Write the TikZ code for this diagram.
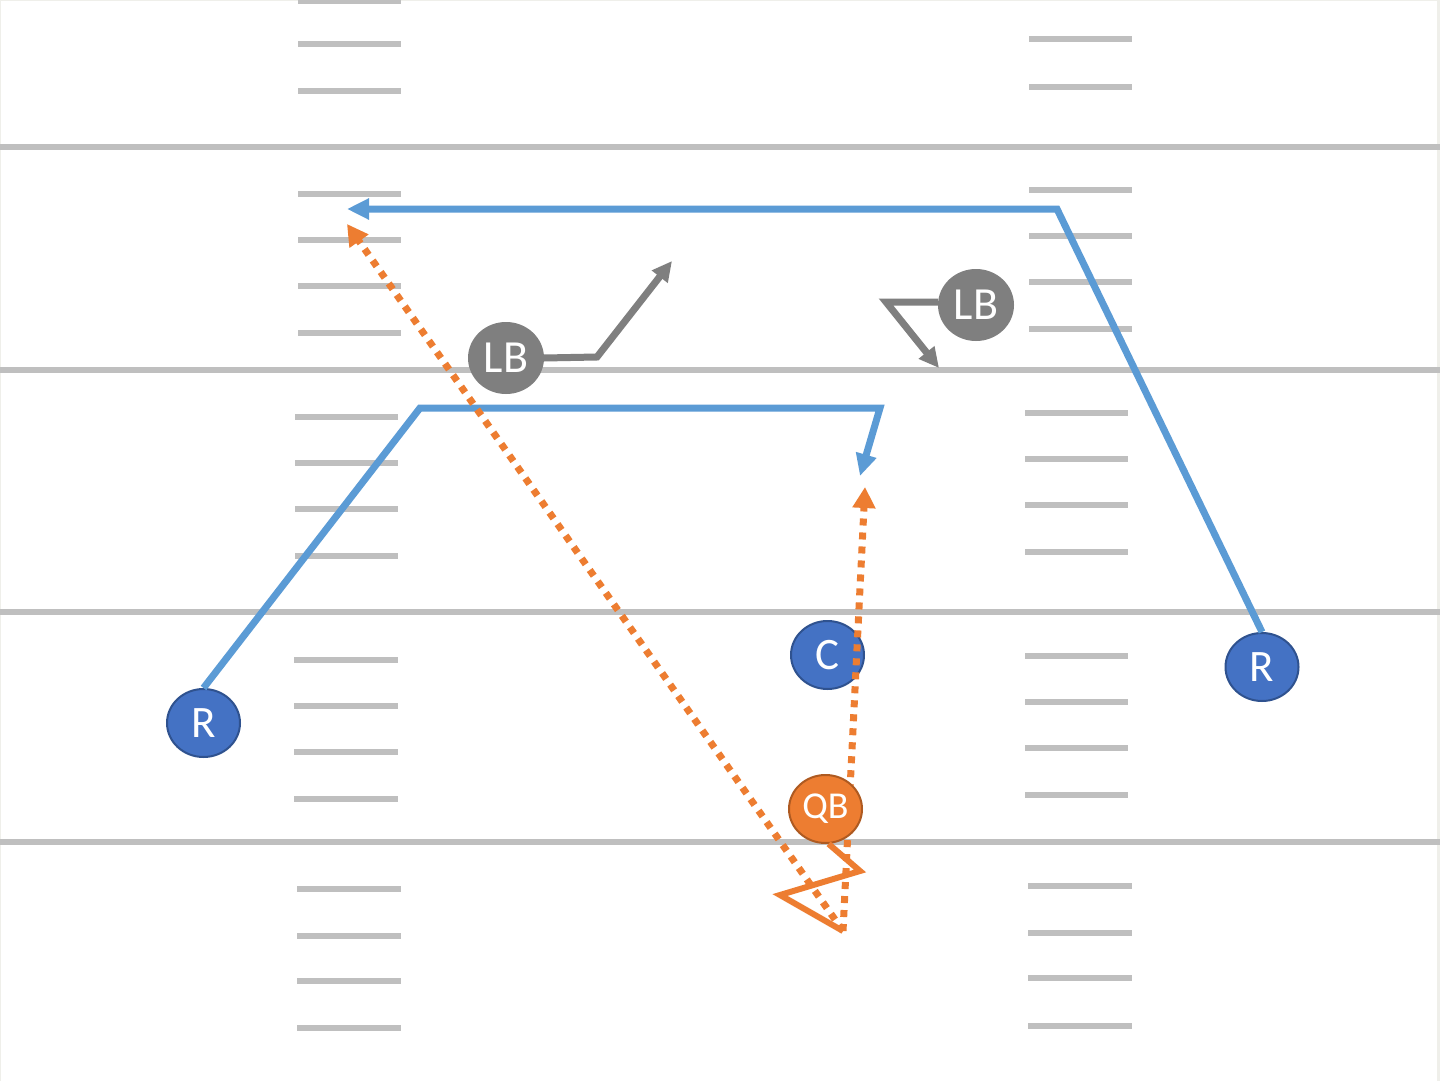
\documentclass[tikz,border=0pt]{standalone}
\usepackage{fontspec}
\setmainfont{Carlito}
\usetikzlibrary{shapes.geometric,arrows.meta}
\definecolor{yard}{HTML}{BFBFBF}
\definecolor{routeblue}{HTML}{5B9BD5}
\definecolor{rfill}{HTML}{4472C4}
\definecolor{rdraw}{HTML}{2F528F}
\definecolor{lbgray}{HTML}{7F7F7F}
\definecolor{qbfill}{HTML}{ED7D31}
\definecolor{qbdraw}{HTML}{AE5A21}
\definecolor{frame}{HTML}{EFEFEA}
\tikzset{
  yardline/.style={draw=yard,line width=6.5pt},
  hashmark/.style={draw=yard,line width=6.5pt},
  player/.style={ellipse,inner sep=0pt,minimum width=73pt,minimum height=68pt,text=white,line width=2pt},
  receiver/.style={player,fill=rfill,draw=rdraw,font=\fontsize{45}{45}\selectfont},
  qbstyle/.style={player,fill=qbfill,draw=qbdraw,font=\fontsize{38}{38}\selectfont},
  lbstyle/.style={player,fill=lbgray,draw=lbgray,minimum width=74pt,minimum height=70pt,font=\fontsize{46}{46}\selectfont},
  bluerun/.style={draw=routeblue,line width=7pt,line join=miter},
  grayrun/.style={draw=lbgray,line width=7pt,line join=miter},
  dropback/.style={draw=qbfill,line width=6pt,line join=miter},
  pass/.style={draw=qbfill,line width=7pt,dash pattern=on 7pt off 7pt},
  bluetip/.style={-{Triangle[length=22pt,width=20pt]}},
  graytip/.style={-{Triangle[length=20pt,width=19pt]}},
  orangetip/.style={-{Triangle[length=21pt,width=22pt]}},
}
\begin{document}
\begin{tikzpicture}[x=1pt,y=-1pt]
\useasboundingbox (0,0) rectangle (1440,1081);
\clip (0,0) rectangle (1440,1081);
\fill[white] (0,0) rectangle (1440,1081);
\draw[frame,line width=3pt] (1438,0) -- (1438,1081);
\draw[frame,line width=1.5pt] (0,0.5) -- (1440,0.5);
\draw[frame,line width=1.5pt] (0.5,0) -- (0.5,1081);
% yard lines
\foreach \y in {147,370,612,842}
  \draw[yardline] (0,\y) -- (1440,\y);
% hash marks
\foreach \y in {1,44,91,194,240,286,333}
  \draw[hashmark] (298,\y) -- (401,\y);
\foreach \y in {417,463,509,556}
  \draw[hashmark] (295,\y) -- (398,\y);
\foreach \y in {660,706,752,799}
  \draw[hashmark] (294,\y) -- (398,\y);
\foreach \y in {889,936,981,1028}
  \draw[hashmark] (297,\y) -- (401,\y);
\foreach \y in {39,87,190,236,282,329}
  \draw[hashmark] (1029,\y) -- (1132,\y);
\foreach \y in {413,459,505,552,656,702,748,795}
  \draw[hashmark] (1025,\y) -- (1128,\y);
\foreach \y in {886,933,978,1026}
  \draw[hashmark] (1028,\y) -- (1132,\y);
% players
\node[receiver] (rl) at (203.5,723) {R};
\node[receiver] (rr) at (1262,667) {R};
\node[receiver] (c) at (827.5,655) {C};
\node[lbstyle] (lbl) at (506,358) {LB};
\node[lbstyle] (lbr) at (976,305) {LB};
% route coordinates
\coordinate (rlA) at (420,408);
\coordinate (rlB) at (880,408);
\coordinate (rlT) at (860,476);
\coordinate (rrA) at (1057,209);
\coordinate (rrT) at (347,209);
\coordinate (lblA) at (597,357);
\coordinate (lblT) at (672,261);
\coordinate (lbrA) at (886,302);
\coordinate (lbrT) at (939,368);
\coordinate (d1) at (860,871);
\coordinate (d2) at (780,895);
\coordinate (drop) at (843,931);
\coordinate (passL) at (347,224);
\coordinate (passC) at (865,487);
% receiver routes
\draw[bluerun,bluetip] (rl.north) -- (rlA) -- (rlB) -- (rlT);
\draw[bluerun,bluetip] (rr.north) -- (rrA) -- (rrT);
% linebacker drops
\draw[grayrun,graytip] (lbl.east) -- (lblA) -- (lblT);
\draw[grayrun,graytip] (lbr.west |- lbrA) -- (lbrA) -- (lbrT);
% passes
\draw[pass,orangetip] (drop) -- (passL);
\draw[pass,orangetip] (drop) -- (passC);
% quarterback
\node[qbstyle] (qb) at (825.5,809) {QB};
\draw[dropback] (qb.-85) -- (d1) -- (d2) -- (drop);
\end{tikzpicture}
\end{document}
